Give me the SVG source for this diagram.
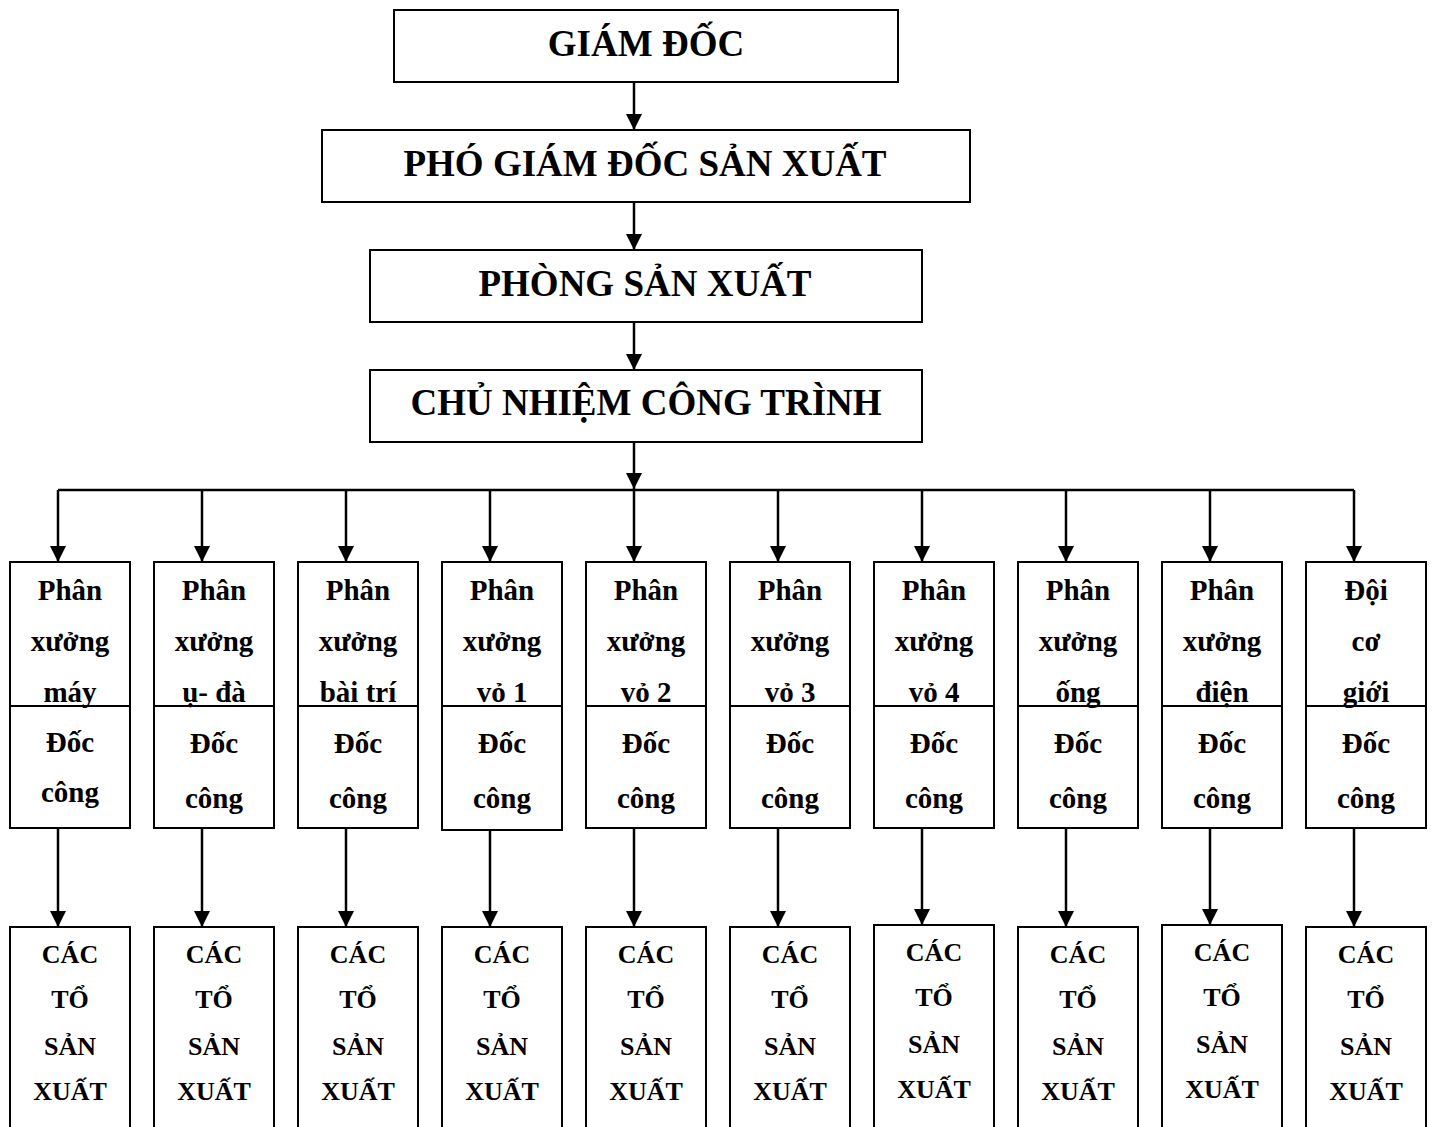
<svg xmlns="http://www.w3.org/2000/svg" width="1432" height="1127" viewBox="0 0 1432 1127">
  <style>
    .box { fill: #fff; stroke: #000; stroke-width: 2; }
    .line { fill: none; stroke: #000; stroke-width: 2.5; }
    text { font-family: "Liberation Serif", "Times New Roman", serif; font-weight: bold; fill: #000; text-anchor: middle; }
    .t1 { font-size: 37px; }
    .t2 { font-size: 29px; }
    .t3 { font-size: 26px; }
  </style>
  <defs>
    <marker id="ah" markerUnits="userSpaceOnUse" markerWidth="16" markerHeight="16" viewBox="0 0 16 16" refX="16" refY="8" orient="auto">
      <path d="M0,0 L16,8 L0,16 Z" fill="#000"/>
    </marker>
  </defs>

  <!-- Connectors -->
  <g id="connectors" class="line">
    <line x1="634" y1="82" x2="634" y2="130" marker-end="url(#ah)"/>
    <line x1="634" y1="202" x2="634" y2="250" marker-end="url(#ah)"/>
    <line x1="634" y1="322" x2="634" y2="370" marker-end="url(#ah)"/>
    <line x1="634" y1="442" x2="634" y2="489" marker-end="url(#ah)"/>
    <line x1="58" y1="490" x2="1354" y2="490"/>
    <line x1="58" y1="490" x2="58" y2="562" marker-end="url(#ah)"/>
    <line x1="202" y1="490" x2="202" y2="562" marker-end="url(#ah)"/>
    <line x1="346" y1="490" x2="346" y2="562" marker-end="url(#ah)"/>
    <line x1="490" y1="490" x2="490" y2="562" marker-end="url(#ah)"/>
    <line x1="634" y1="490" x2="634" y2="562" marker-end="url(#ah)"/>
    <line x1="778" y1="490" x2="778" y2="562" marker-end="url(#ah)"/>
    <line x1="922" y1="490" x2="922" y2="562" marker-end="url(#ah)"/>
    <line x1="1066" y1="490" x2="1066" y2="562" marker-end="url(#ah)"/>
    <line x1="1210" y1="490" x2="1210" y2="562" marker-end="url(#ah)"/>
    <line x1="1354" y1="490" x2="1354" y2="562" marker-end="url(#ah)"/>
    <line x1="58" y1="828" x2="58" y2="927" marker-end="url(#ah)"/>
    <line x1="202" y1="828" x2="202" y2="927" marker-end="url(#ah)"/>
    <line x1="346" y1="828" x2="346" y2="927" marker-end="url(#ah)"/>
    <line x1="490" y1="830" x2="490" y2="927" marker-end="url(#ah)"/>
    <line x1="634" y1="828" x2="634" y2="927" marker-end="url(#ah)"/>
    <line x1="778" y1="828" x2="778" y2="927" marker-end="url(#ah)"/>
    <line x1="922" y1="828" x2="922" y2="925" marker-end="url(#ah)"/>
    <line x1="1066" y1="828" x2="1066" y2="927" marker-end="url(#ah)"/>
    <line x1="1210" y1="828" x2="1210" y2="925" marker-end="url(#ah)"/>
    <line x1="1354" y1="828" x2="1354" y2="927" marker-end="url(#ah)"/>
  </g>

  <!-- Management chain -->
  <g id="giam-doc">
    <rect class="box" x="394" y="10" width="504" height="72"/>
    <text class="t1" x="646" y="56">GIÁM ĐỐC</text>
  </g>
  <g id="pho-giam-doc">
    <rect class="box" x="322" y="130" width="648" height="72"/>
    <text class="t1" x="645" y="176">PHÓ GIÁM ĐỐC SẢN XUẤT</text>
  </g>
  <g id="phong-san-xuat">
    <rect class="box" x="370" y="250" width="552" height="72"/>
    <text class="t1" x="645" y="296">PHÒNG SẢN XUẤT</text>
  </g>
  <g id="chu-nhiem">
    <rect class="box" x="370" y="370" width="552" height="72"/>
    <text class="t1" x="646" y="415">CHỦ NHIỆM CÔNG TRÌNH</text>
  </g>

  <!-- Workshops: upper box (name + foreman) -->
  <g id="px-may">
    <rect class="box" x="10" y="562" width="120" height="266"/>
    <line class="box" x1="10" y1="706" x2="130" y2="706"/>
    <text class="t2" x="70" y="600">Phân</text>
    <text class="t2" x="70" y="651">xưởng</text>
    <text class="t2" x="70" y="702">máy</text>
    <text class="t2" x="70" y="752">Đốc</text>
    <text class="t2" x="70" y="802">công</text>
  </g>
  <g id="px-u-da">
    <rect class="box" x="154" y="562" width="120" height="266"/>
    <line class="box" x1="154" y1="706" x2="274" y2="706"/>
    <text class="t2" x="214" y="600">Phân</text>
    <text class="t2" x="214" y="651">xưởng</text>
    <text class="t2" x="214" y="702">ụ- đà</text>
    <text class="t2" x="214" y="753">Đốc</text>
    <text class="t2" x="214" y="808">công</text>
  </g>
  <g id="px-bai-tri">
    <rect class="box" x="298" y="562" width="120" height="266"/>
    <line class="box" x1="298" y1="706" x2="418" y2="706"/>
    <text class="t2" x="358" y="600">Phân</text>
    <text class="t2" x="358" y="651">xưởng</text>
    <text class="t2" x="358" y="702">bài trí</text>
    <text class="t2" x="358" y="753">Đốc</text>
    <text class="t2" x="358" y="808">công</text>
  </g>
  <g id="px-vo-1">
    <rect class="box" x="442" y="562" width="120" height="268"/>
    <line class="box" x1="442" y1="706" x2="562" y2="706"/>
    <text class="t2" x="502" y="600">Phân</text>
    <text class="t2" x="502" y="651">xưởng</text>
    <text class="t2" x="502" y="702">vỏ 1</text>
    <text class="t2" x="502" y="753">Đốc</text>
    <text class="t2" x="502" y="808">công</text>
  </g>
  <g id="px-vo-2">
    <rect class="box" x="586" y="562" width="120" height="266"/>
    <line class="box" x1="586" y1="706" x2="706" y2="706"/>
    <text class="t2" x="646" y="600">Phân</text>
    <text class="t2" x="646" y="651">xưởng</text>
    <text class="t2" x="646" y="702">vỏ 2</text>
    <text class="t2" x="646" y="753">Đốc</text>
    <text class="t2" x="646" y="808">công</text>
  </g>
  <g id="px-vo-3">
    <rect class="box" x="730" y="562" width="120" height="266"/>
    <line class="box" x1="730" y1="706" x2="850" y2="706"/>
    <text class="t2" x="790" y="600">Phân</text>
    <text class="t2" x="790" y="651">xưởng</text>
    <text class="t2" x="790" y="702">vỏ 3</text>
    <text class="t2" x="790" y="753">Đốc</text>
    <text class="t2" x="790" y="808">công</text>
  </g>
  <g id="px-vo-4">
    <rect class="box" x="874" y="562" width="120" height="266"/>
    <line class="box" x1="874" y1="706" x2="994" y2="706"/>
    <text class="t2" x="934" y="600">Phân</text>
    <text class="t2" x="934" y="651">xưởng</text>
    <text class="t2" x="934" y="702">vỏ 4</text>
    <text class="t2" x="934" y="753">Đốc</text>
    <text class="t2" x="934" y="808">công</text>
  </g>
  <g id="px-ong">
    <rect class="box" x="1018" y="562" width="120" height="266"/>
    <line class="box" x1="1018" y1="706" x2="1138" y2="706"/>
    <text class="t2" x="1078" y="600">Phân</text>
    <text class="t2" x="1078" y="651">xưởng</text>
    <text class="t2" x="1078" y="702">ống</text>
    <text class="t2" x="1078" y="753">Đốc</text>
    <text class="t2" x="1078" y="808">công</text>
  </g>
  <g id="px-dien">
    <rect class="box" x="1162" y="562" width="120" height="266"/>
    <line class="box" x1="1162" y1="706" x2="1282" y2="706"/>
    <text class="t2" x="1222" y="600">Phân</text>
    <text class="t2" x="1222" y="651">xưởng</text>
    <text class="t2" x="1222" y="702">điện</text>
    <text class="t2" x="1222" y="753">Đốc</text>
    <text class="t2" x="1222" y="808">công</text>
  </g>
  <g id="doi-co-gioi">
    <rect class="box" x="1306" y="562" width="120" height="266"/>
    <line class="box" x1="1306" y1="706" x2="1426" y2="706"/>
    <text class="t2" x="1366" y="600">Đội</text>
    <text class="t2" x="1366" y="651">cơ</text>
    <text class="t2" x="1366" y="702">giới</text>
    <text class="t2" x="1366" y="753">Đốc</text>
    <text class="t2" x="1366" y="808">công</text>
  </g>

  <!-- Production teams -->
  <g id="to-1">
    <rect class="box" x="10" y="927" width="120" height="210"/>
    <text class="t3" x="70" y="963">CÁC</text><text class="t3" x="70" y="1008">TỔ</text>
    <text class="t3" x="70" y="1055">SẢN</text><text class="t3" x="70" y="1100">XUẤT</text>
  </g>
  <g id="to-2">
    <rect class="box" x="154" y="927" width="120" height="210"/>
    <text class="t3" x="214" y="963">CÁC</text><text class="t3" x="214" y="1008">TỔ</text>
    <text class="t3" x="214" y="1055">SẢN</text><text class="t3" x="214" y="1100">XUẤT</text>
  </g>
  <g id="to-3">
    <rect class="box" x="298" y="927" width="120" height="210"/>
    <text class="t3" x="358" y="963">CÁC</text><text class="t3" x="358" y="1008">TỔ</text>
    <text class="t3" x="358" y="1055">SẢN</text><text class="t3" x="358" y="1100">XUẤT</text>
  </g>
  <g id="to-4">
    <rect class="box" x="442" y="927" width="120" height="210"/>
    <text class="t3" x="502" y="963">CÁC</text><text class="t3" x="502" y="1008">TỔ</text>
    <text class="t3" x="502" y="1055">SẢN</text><text class="t3" x="502" y="1100">XUẤT</text>
  </g>
  <g id="to-5">
    <rect class="box" x="586" y="927" width="120" height="210"/>
    <text class="t3" x="646" y="963">CÁC</text><text class="t3" x="646" y="1008">TỔ</text>
    <text class="t3" x="646" y="1055">SẢN</text><text class="t3" x="646" y="1100">XUẤT</text>
  </g>
  <g id="to-6">
    <rect class="box" x="730" y="927" width="120" height="210"/>
    <text class="t3" x="790" y="963">CÁC</text><text class="t3" x="790" y="1008">TỔ</text>
    <text class="t3" x="790" y="1055">SẢN</text><text class="t3" x="790" y="1100">XUẤT</text>
  </g>
  <g id="to-7">
    <rect class="box" x="874" y="925" width="120" height="212"/>
    <text class="t3" x="934" y="961">CÁC</text><text class="t3" x="934" y="1006">TỔ</text>
    <text class="t3" x="934" y="1053">SẢN</text><text class="t3" x="934" y="1098">XUẤT</text>
  </g>
  <g id="to-8">
    <rect class="box" x="1018" y="927" width="120" height="210"/>
    <text class="t3" x="1078" y="963">CÁC</text><text class="t3" x="1078" y="1008">TỔ</text>
    <text class="t3" x="1078" y="1055">SẢN</text><text class="t3" x="1078" y="1100">XUẤT</text>
  </g>
  <g id="to-9">
    <rect class="box" x="1162" y="925" width="120" height="212"/>
    <text class="t3" x="1222" y="961">CÁC</text><text class="t3" x="1222" y="1006">TỔ</text>
    <text class="t3" x="1222" y="1053">SẢN</text><text class="t3" x="1222" y="1098">XUẤT</text>
  </g>
  <g id="to-10">
    <rect class="box" x="1306" y="927" width="120" height="210"/>
    <text class="t3" x="1366" y="963">CÁC</text><text class="t3" x="1366" y="1008">TỔ</text>
    <text class="t3" x="1366" y="1055">SẢN</text><text class="t3" x="1366" y="1100">XUẤT</text>
  </g>
</svg>
